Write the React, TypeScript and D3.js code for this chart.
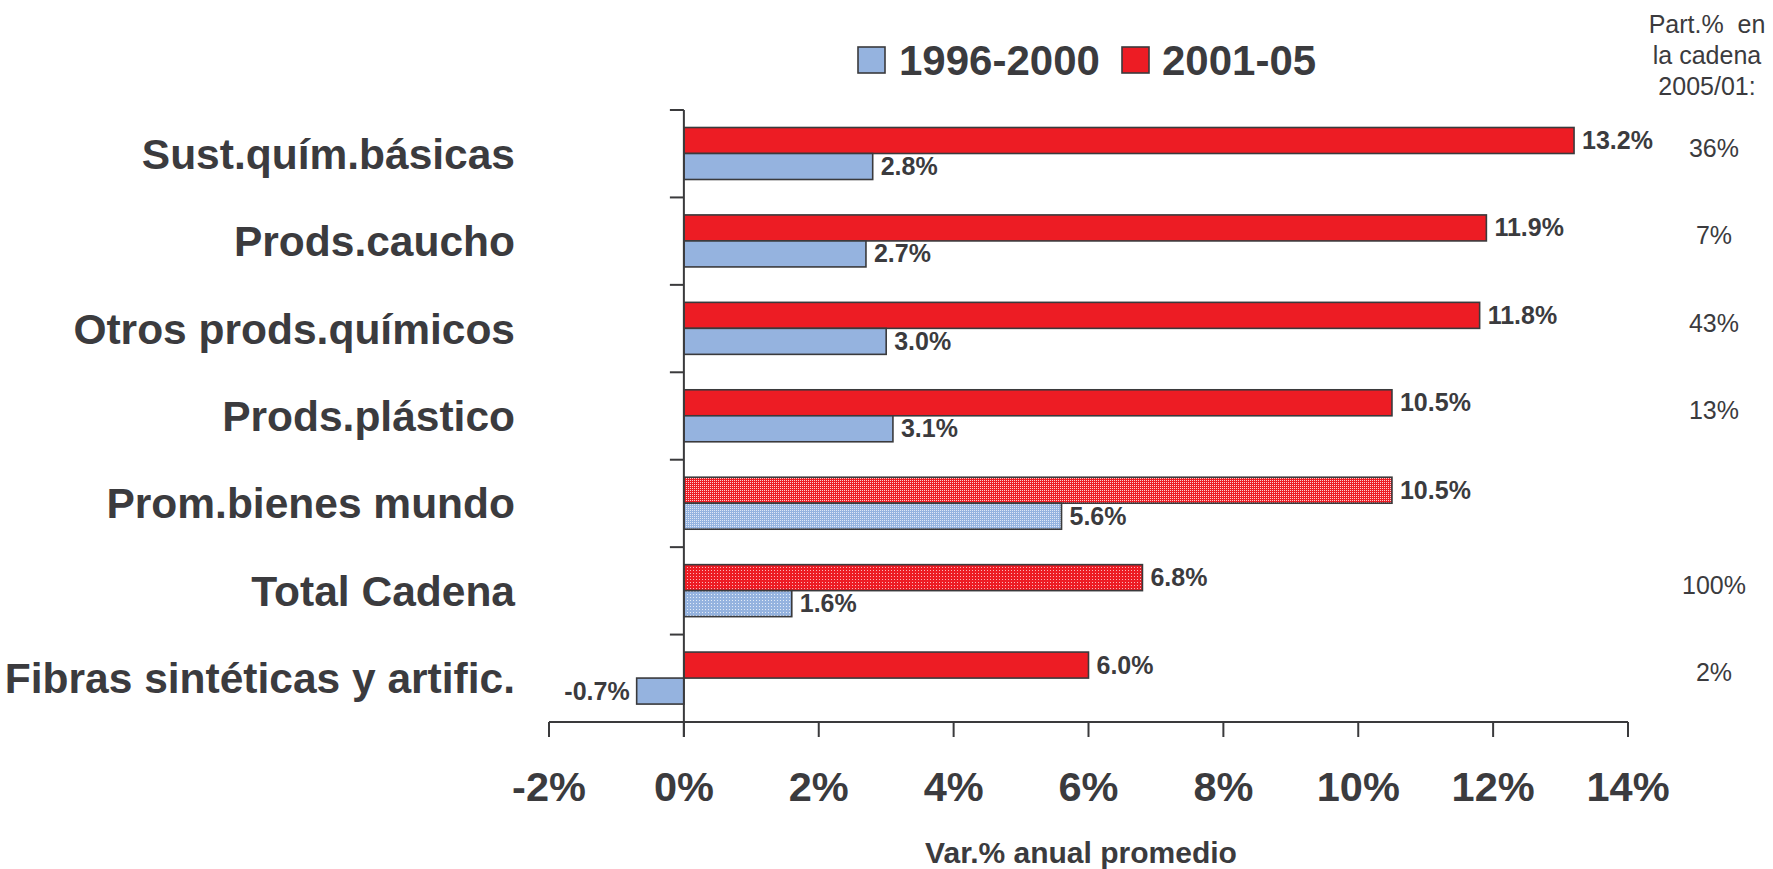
import React from "react";
import * as d3 from "d3";

const categories = [
  "Sust.quím.básicas",
  "Prods.caucho",
  "Otros prods.químicos",
  "Prods.plástico",
  "Prom.bienes mundo",
  "Total Cadena",
  "Fibras sintéticas y artific.",
];
const values2001 = [13.2, 11.9, 11.8, 10.5, 10.5, 6.8, 6.0];
const values1996 = [2.8, 2.7, 3.0, 3.1, 5.6, 1.6, -0.7];
const shares = ["36%", "7%", "43%", "13%", "", "100%", "2%"];
const xTicks = [-2, 0, 2, 4, 6, 8, 10, 12, 14];
const seriesNames = ["2001-05", "1996-2000"];
const legendNames = ["1996-2000", "2001-05"];
const headerLines = ["Part.%  en", "la cadena", "2005/01:"];

const RED = "#ED1C24";
const BLUE = "#95B3DF";
const TXT = "#3b3b3e";
const STROKE = "#3a3a3c";
const FONT = "'Liberation Sans', Arial, Helvetica, sans-serif";

export default function App() {
  const W = 1773;
  const H = 869;
  const x = d3.scaleLinear().domain([-2, 14]).range([549, 1628]);
  const y = d3.scaleBand<string>().domain(categories).range([110, 722]).paddingInner(0);
  const bw = y.bandwidth();
  const inner = d3.scaleBand<string>().domain(seriesNames).range([17.5, 69.5]);
  const ih = inner.bandwidth();
  const x0 = x(0);
  const boundaries = d3.range(categories.length + 1).map((i) => 110 + i * bw);

  const fillFor = (series: string, cat: string) => {
    const isRed = series === "2001-05";
    if (cat === "Prom.bienes mundo") return isRed ? "url(#promRed)" : "url(#promBlue)";
    if (cat === "Total Cadena") return isRed ? "url(#totRed)" : "url(#totBlue)";
    return isRed ? RED : BLUE;
  };

  const bars: any[] = [];
  categories.forEach((c, i) => {
    [
      { s: "2001-05", v: values2001[i] },
      { s: "1996-2000", v: values1996[i] },
    ].forEach(({ s, v }) => {
      const yy = (y(c) as number) + (inner(s) as number);
      const xa = Math.min(x(v), x0);
      const xb = Math.max(x(v), x0);
      bars.push(
        <rect
          key={c + s}
          x={xa}
          y={yy}
          width={xb - xa}
          height={ih}
          fill={fillFor(s, c)}
          stroke={STROKE}
          strokeWidth={1.6}
        />
      );
      const neg = v < 0;
      bars.push(
        <text
          key={c + s + "l"}
          x={neg ? xa - 7 : xb + 8}
          y={yy + ih / 2 + 8.5}
          textAnchor={neg ? "end" : "start"}
          fontSize={25}
          fontWeight="bold"
          fill={TXT}
        >
          {v.toFixed(1) + "%"}
        </text>
      );
    });
  });

  return (
    <svg
      width={W}
      height={H}
      style={{ position: "absolute", left: 0, top: 0, background: "#fff" }}
      fontFamily={FONT}
    >
      <defs>
        <pattern id="promRed" width="2" height="2" patternUnits="userSpaceOnUse">
          <rect width="2" height="2" fill={RED} />
          <rect width="1" height="1" fill="#fbd0d2" />
        </pattern>
        <pattern id="promBlue" width="2" height="2" patternUnits="userSpaceOnUse">
          <rect width="2" height="2" fill={BLUE} />
          <rect width="1" height="1" fill="#dfe8f6" />
        </pattern>
        <pattern id="totRed" width="3" height="3" patternUnits="userSpaceOnUse">
          <rect width="3" height="3" fill={RED} />
          <rect width="1" height="1" fill="#f9b7ba" />
        </pattern>
        <pattern id="totBlue" width="3" height="3" patternUnits="userSpaceOnUse">
          <rect width="3" height="3" fill={BLUE} />
          <rect width="1" height="1" fill="#e3ebf7" />
        </pattern>
      </defs>

      {/* legend */}
      <rect x={858} y={47} width={27} height={26} fill={BLUE} stroke={STROKE} strokeWidth={1.6} />
      <text x={899} y={75} fontSize={42} fontWeight="bold" fill={TXT}>
        {legendNames[0]}
      </text>
      <rect x={1122} y={47} width={27} height={26} fill={RED} stroke={STROKE} strokeWidth={1.6} />
      <text x={1162} y={75} fontSize={42} fontWeight="bold" fill={TXT}>
        {legendNames[1]}
      </text>

      {/* right header */}
      {headerLines.map((t, i) => (
        <text key={t} x={1707} y={33 + i * 31} textAnchor="middle" fontSize={25} fill={TXT} style={{ whiteSpace: "pre" }}>
          {t}
        </text>
      ))}

      {/* bars */}
      {bars}

      {/* y axis */}
      <line x1={x0} x2={x0} y1={110} y2={737} stroke={STROKE} strokeWidth={2} />
      {boundaries.map((b, i) => (
        <line key={"yt" + i} x1={x0 - 14} x2={x0} y1={b} y2={b} stroke={STROKE} strokeWidth={2} />
      ))}

      {/* x axis */}
      <line x1={x(-2)} x2={x(14)} y1={722} y2={722} stroke={STROKE} strokeWidth={2} />
      {xTicks.map((t) => (
        <g key={"xt" + t}>
          <line x1={x(t)} x2={x(t)} y1={722} y2={737} stroke={STROKE} strokeWidth={2} />
          <text x={x(t)} y={801} textAnchor="middle" fontSize={41.5} fontWeight="bold" fill={TXT}>
            {t + "%"}
          </text>
        </g>
      ))}

      {/* category labels */}
      {categories.map((c) => (
        <text
          key={"cl" + c}
          x={515}
          y={(y(c) as number) + bw / 2 + 15}
          textAnchor="end"
          fontSize={42.5}
          fontWeight="bold"
          fill={TXT}
        >
          {c}
        </text>
      ))}

      {/* shares */}
      {categories.map((c, i) =>
        shares[i] ? (
          <text key={"sh" + c} x={1714} y={(y(c) as number) + bw / 2 + 3} textAnchor="middle" fontSize={25} fill={TXT}>
            {shares[i]}
          </text>
        ) : null
      )}

      {/* x axis title */}
      <text x={1081} y={863} textAnchor="middle" fontSize={30} fontWeight="bold" fill={TXT}>
        Var.% anual promedio
      </text>
    </svg>
  );
}
